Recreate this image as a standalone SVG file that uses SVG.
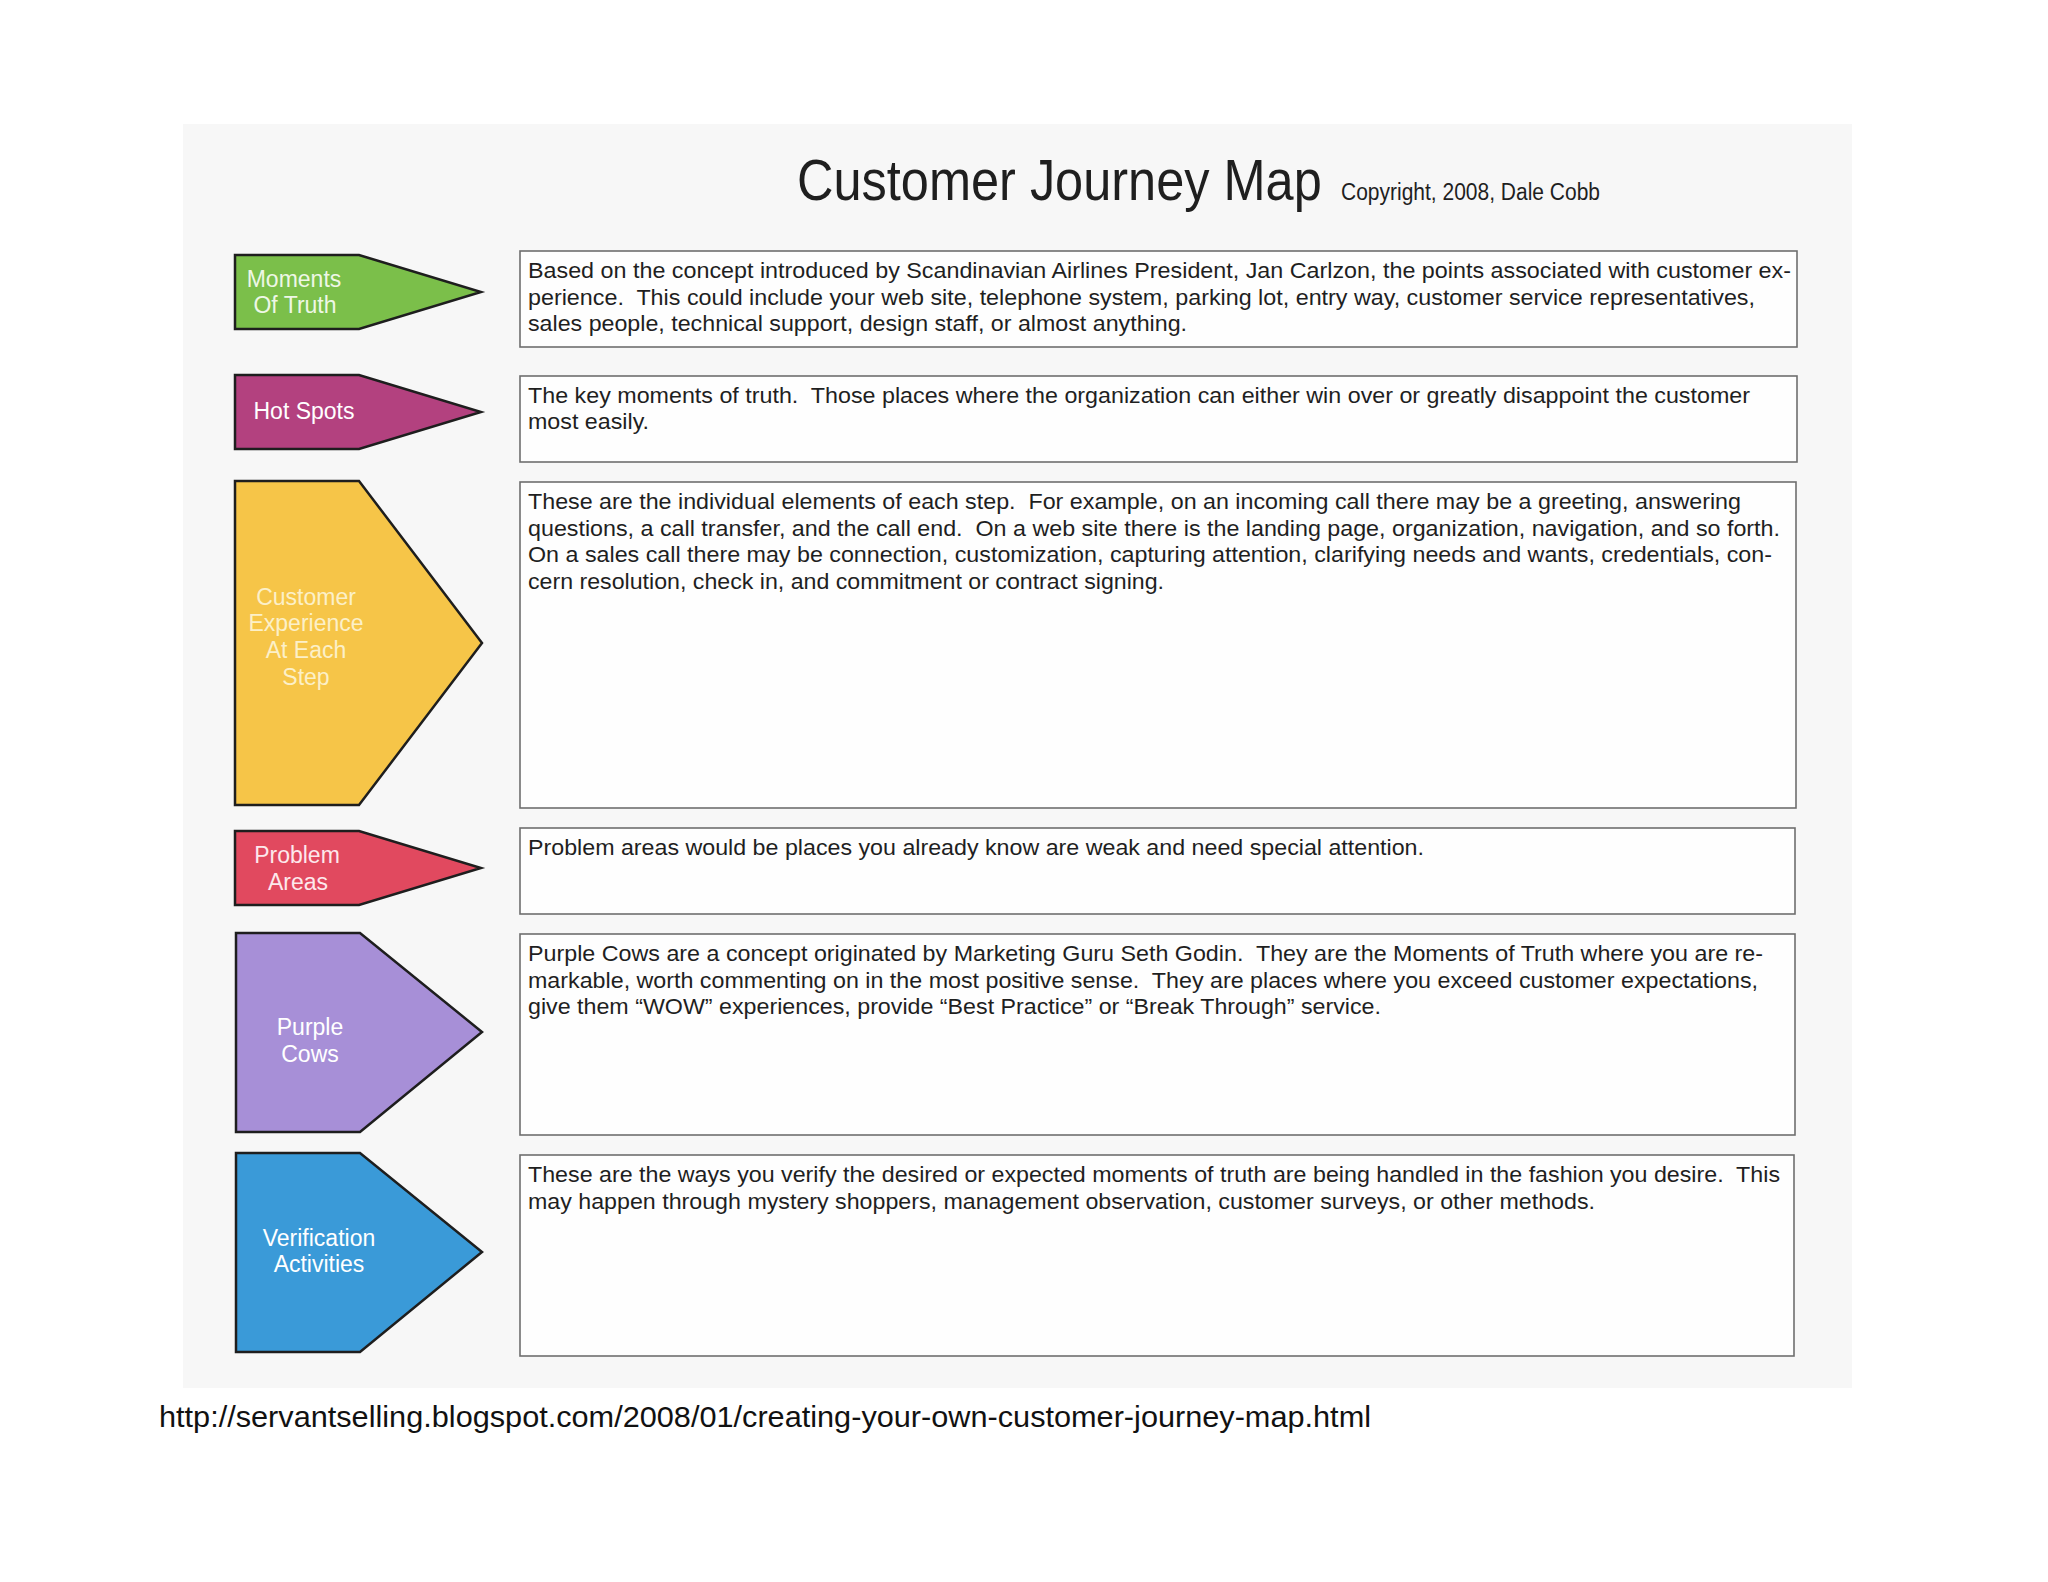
<svg xmlns="http://www.w3.org/2000/svg" width="2048" height="1582" viewBox="0 0 2048 1582">
<style>
  .page{fill:#ffffff}
  .panel{fill:#f7f7f7}
  .arrow{stroke:#1e1e1e;stroke-width:2.5;stroke-linejoin:miter}
  .box{fill:#fefefe;stroke:#6e6e6e;stroke-width:1.6}
  .body{font-family:"Liberation Sans",Arial,sans-serif;font-size:22px;fill:#1f1f1f;white-space:pre}
  .lbl{font-family:"Liberation Sans",Arial,sans-serif;font-size:23px;fill:#ffffff;text-anchor:middle}
  .title{font-family:"Liberation Sans",Arial,sans-serif;font-size:50.5px;fill:#1f1f1f}
  .copy{font-family:"Liberation Sans",Arial,sans-serif;font-size:21px;fill:#1f1f1f}
  .url{font-family:"Liberation Sans",Arial,sans-serif;font-size:30px;fill:#111111}
</style>
<rect class="page" x="0" y="0" width="2048" height="1582"/>
<rect class="panel" x="183" y="124" width="1669" height="1264"/>

<g id="title">
  <text class="title" transform="translate(797,200) scale(1,1.14)" x="0" y="0">Customer Journey Map</text>
  <text class="copy" transform="translate(1341,200) scale(1,1.12)" x="0" y="0">Copyright, 2008, Dale Cobb</text>
</g>

<g id="connectors"></g>

<g id="node-moments">
  <polygon class="arrow" fill="#7bbf4a" points="235,255 359,255 481,292 359,329 235,329"/>
  <text class="lbl" x="294" y="287" style="fill:#eef7e6">Moments</text>
  <text class="lbl" x="295" y="313" style="fill:#eef7e6">Of Truth</text>
</g>
<g id="box-moments">
  <rect class="box" x="520" y="251" width="1277" height="96"/>
  <text class="body" x="528" y="278" textLength="1263" lengthAdjust="spacingAndGlyphs">Based on the concept introduced by Scandinavian Airlines President, Jan Carlzon, the points associated with customer ex-</text>
  <text class="body" x="528" y="305" textLength="1227" lengthAdjust="spacingAndGlyphs">perience.  This could include your web site, telephone system, parking lot, entry way, customer service representatives,</text>
  <text class="body" x="528" y="331" textLength="659" lengthAdjust="spacingAndGlyphs">sales people, technical support, design staff, or almost anything.</text>
</g>

<g id="node-hotspots">
  <polygon class="arrow" fill="#b3417f" points="235,375 359,375 481,412 359,449 235,449"/>
  <text class="lbl" x="304" y="419">Hot Spots</text>
</g>
<g id="box-hotspots">
  <rect class="box" x="520" y="376" width="1277" height="86"/>
  <text class="body" x="528" y="403" textLength="1222" lengthAdjust="spacingAndGlyphs">The key moments of truth.  Those places where the organization can either win over or greatly disappoint the customer</text>
  <text class="body" x="528" y="429" textLength="121" lengthAdjust="spacingAndGlyphs">most easily.</text>
</g>

<g id="node-experience">
  <polygon class="arrow" fill="#f6c548" points="235,481 359,481 482,643 359,805 235,805"/>
  <text class="lbl" x="306" y="605" style="fill:#fcf0c8">Customer</text>
  <text class="lbl" x="306" y="631" style="fill:#fcf0c8">Experience</text>
  <text class="lbl" x="306" y="658" style="fill:#fcf0c8">At Each</text>
  <text class="lbl" x="306" y="685" style="fill:#fcf0c8">Step</text>
</g>
<g id="box-experience">
  <rect class="box" x="520" y="482" width="1276" height="326"/>
  <text class="body" x="528" y="509" textLength="1213" lengthAdjust="spacingAndGlyphs">These are the individual elements of each step.  For example, on an incoming call there may be a greeting, answering</text>
  <text class="body" x="528" y="536" textLength="1252" lengthAdjust="spacingAndGlyphs">questions, a call transfer, and the call end.  On a web site there is the landing page, organization, navigation, and so forth.</text>
  <text class="body" x="528" y="562" textLength="1244" lengthAdjust="spacingAndGlyphs">On a sales call there may be connection, customization, capturing attention, clarifying needs and wants, credentials, con-</text>
  <text class="body" x="528" y="589" textLength="636" lengthAdjust="spacingAndGlyphs">cern resolution, check in, and commitment or contract signing.</text>
</g>

<g id="node-problem">
  <polygon class="arrow" fill="#e1495f" points="235,831 359,831 481,868 359,905 235,905"/>
  <text class="lbl" x="297" y="863" style="fill:#fde8ec">Problem</text>
  <text class="lbl" x="298" y="890" style="fill:#fde8ec">Areas</text>
</g>
<g id="box-problem">
  <rect class="box" x="520" y="828" width="1275" height="86"/>
  <text class="body" x="528" y="855" textLength="896" lengthAdjust="spacingAndGlyphs">Problem areas would be places you already know are weak and need special attention.</text>
</g>

<g id="node-purple">
  <polygon class="arrow" fill="#a78fd7" points="236,933 360,933 482,1032 360,1132 236,1132"/>
  <text class="lbl" x="310" y="1035">Purple</text>
  <text class="lbl" x="310" y="1062">Cows</text>
</g>
<g id="box-purple">
  <rect class="box" x="520" y="934" width="1275" height="201"/>
  <text class="body" x="528" y="961" textLength="1235" lengthAdjust="spacingAndGlyphs">Purple Cows are a concept originated by Marketing Guru Seth Godin.  They are the Moments of Truth where you are re-</text>
  <text class="body" x="528" y="988" textLength="1230" lengthAdjust="spacingAndGlyphs">markable, worth commenting on in the most positive sense.  They are places where you exceed customer expectations,</text>
  <text class="body" x="528" y="1014" textLength="853" lengthAdjust="spacingAndGlyphs">give them “WOW” experiences, provide “Best Practice” or “Break Through” service.</text>
</g>

<g id="node-verification">
  <polygon class="arrow" fill="#3a9ad8" points="236,1153 360,1153 482,1252 360,1352 236,1352"/>
  <text class="lbl" x="319" y="1246">Verification</text>
  <text class="lbl" x="319" y="1272">Activities</text>
</g>
<g id="box-verification">
  <rect class="box" x="520" y="1155" width="1274" height="201"/>
  <text class="body" x="528" y="1182" textLength="1252" lengthAdjust="spacingAndGlyphs">These are the ways you verify the desired or expected moments of truth are being handled in the fashion you desire.  This</text>
  <text class="body" x="528" y="1209" textLength="1067" lengthAdjust="spacingAndGlyphs">may happen through mystery shoppers, management observation, customer surveys, or other methods.</text>
</g>

<g id="footer">
  <text class="url" x="159" y="1427" textLength="1212" lengthAdjust="spacingAndGlyphs">http://servantselling.blogspot.com/2008/01/creating-your-own-customer-journey-map.html</text>
</g>
</svg>
